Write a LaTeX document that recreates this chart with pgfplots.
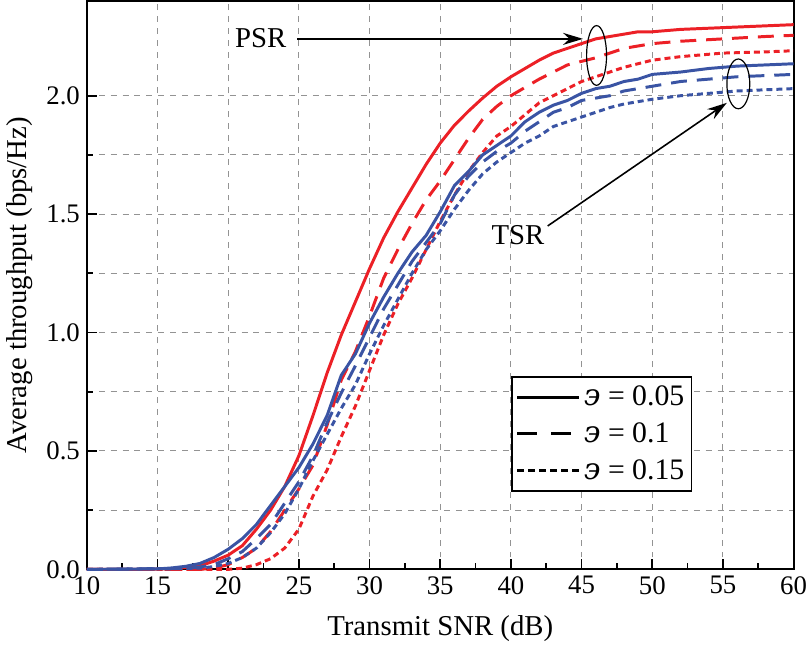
\documentclass[border=0pt]{standalone}
\usepackage{fontspec}
\setmainfont{Liberation Serif}
\newfontfamily\greekit{DejaVu Serif}
\usepackage{pgfplots}
\pgfplotsset{compat=1.18}
\usetikzlibrary{arrows.meta}

\definecolor{cred}{RGB}{236,32,38}
\definecolor{cblue}{RGB}{58,84,164}

\newcommand{\eps}{{\greekit\itshape ϶}}

\begin{document}
\begin{tikzpicture}
\begin{axis}[
    width=355bp, height=285.5bp,
    scale only axis,
    xmin=10, xmax=60, ymin=0, ymax=2.4,
    xtick={10,15,...,60},
    ytick={0,0.5,...,2.0},
    minor tick num=1,
    tick pos=left,
    tick align=inside,
    major tick length=5bp,
    minor tick length=3bp,
    every tick/.style={black, line width=0.9pt},
    axis line style={line width=1pt},
    xmajorgrids, ymajorgrids, yminorgrids,
    grid style={gray!85, dashed, line width=0.5pt},
    /pgf/number format/assume math mode=true,
    yticklabel style={/pgf/number format/.cd, fixed, fixed zerofill, precision=1},
    ticklabel style={font=\fontsize{13.5}{15}\selectfont},
    xticklabel style={inner xsep=0pt},
    label style={font=\fontsize{14.5}{16}\selectfont},
    xlabel={Transmit SNR (dB)},
    ylabel={Average throughput (bps/Hz)},
    xlabel style={yshift=-4bp},
    legend style={at={(0.856,0.137)}, anchor=south east, draw=black, line width=0.6pt,
        font=\fontsize{15}{17}\selectfont, row sep=3pt, inner xsep=2pt, inner ysep=2.5pt,
        nodes={inner xsep=1.5pt}, cells={anchor=west}},
    legend image code/.code={\draw[#1] (0cm,0cm) -- (1.1cm,0cm);},
    clip=false,
]
% PSR, red
\addplot[cred, line width=1.5pt, forget plot] coordinates {
(10,0)(14,0)(16,0.003)(17,0.008)(18,0.015)(19,0.035)(20,0.06)(21,0.10)(22,0.17)(23,0.25)(24,0.35)(25,0.48)(26,0.65)(27,0.83)(28,0.99)(29,1.13)(30,1.27)(31,1.40)(32,1.51)(33,1.61)(34,1.71)(35,1.80)(36,1.875)(37,1.935)(38,1.99)(39,2.04)(40,2.08)(41,2.115)(42,2.15)(43,2.18)(44,2.20)(45,2.22)(46,2.24)(47,2.25)(48,2.26)(49,2.27)(50,2.27)(52,2.28)(54,2.285)(56,2.29)(58,2.295)(60,2.30)};
\addplot[cred, line width=1.5pt, dash pattern=on 8bp off 5bp, forget plot] coordinates {
(10,0)(18,0)(19,0.005)(20,0.02)(21,0.05)(22,0.09)(23,0.16)(24,0.25)(25,0.34)(26,0.44)(27,0.61)(28,0.80)(29,0.92)(30,1.07)(31,1.23)(32,1.35)(33,1.46)(34,1.56)(35,1.64)(36,1.73)(37,1.82)(38,1.90)(39,1.955)(40,2.00)(41,2.035)(42,2.07)(43,2.10)(44,2.13)(45,2.145)(46,2.16)(47,2.18)(48,2.20)(50,2.22)(52,2.23)(55,2.24)(58,2.25)(60,2.255)};
\addplot[cred, line width=1.5pt, dash pattern=on 3bp off 2bp, forget plot] coordinates {
(10,0)(20,0)(21,0.005)(22,0.02)(23,0.045)(24,0.09)(25,0.17)(26,0.31)(27,0.42)(28,0.56)(29,0.69)(30,0.84)(31,0.99)(32,1.12)(33,1.23)(34,1.35)(35,1.47)(36,1.58)(37,1.68)(38,1.76)(39,1.83)(40,1.87)(41,1.92)(42,1.97)(43,2.00)(44,2.03)(45,2.06)(46,2.08)(47,2.10)(48,2.12)(50,2.15)(52,2.165)(55,2.18)(58,2.185)(60,2.19)};
% TSR, blue
\addplot[cblue, line width=1.5pt, forget plot] coordinates {
(10,0)(15,0.002)(16,0.006)(17,0.013)(18,0.025)(19,0.05)(20,0.085)(21,0.13)(22,0.19)(23,0.27)(24,0.35)(25,0.43)(26,0.53)(27,0.65)(28,0.82)(29,0.91)(30,1.04)(31,1.15)(32,1.25)(33,1.34)(34,1.41)(35,1.51)(36,1.62)(37,1.68)(38,1.75)(39,1.79)(40,1.83)(41,1.89)(42,1.93)(43,1.96)(44,1.98)(45,2.01)(46,2.03)(47,2.04)(48,2.06)(49,2.07)(50,2.09)(52,2.10)(54,2.115)(56,2.125)(58,2.13)(60,2.135)};
\addplot[cblue, line width=1.5pt, dash pattern=on 8bp off 5bp, forget plot] coordinates {
(10,0)(17,0.003)(18,0.01)(19,0.02)(20,0.045)(21,0.075)(22,0.13)(23,0.19)(24,0.28)(25,0.37)(26,0.48)(27,0.62)(28,0.745)(29,0.86)(30,0.98)(31,1.10)(32,1.20)(33,1.30)(34,1.38)(35,1.46)(36,1.58)(37,1.66)(38,1.72)(39,1.765)(40,1.80)(41,1.85)(42,1.89)(43,1.93)(44,1.95)(45,1.98)(46,1.99)(47,2.00)(48,2.02)(50,2.04)(52,2.06)(54,2.07)(56,2.08)(58,2.085)(60,2.09)};
\addplot[cblue, line width=1.5pt, dash pattern=on 3bp off 2bp, forget plot] coordinates {
(10,0)(18,0.005)(19,0.012)(20,0.025)(21,0.05)(22,0.09)(23,0.155)(24,0.235)(25,0.34)(26,0.46)(27,0.57)(28,0.68)(29,0.78)(30,0.91)(31,1.03)(32,1.14)(33,1.25)(34,1.35)(35,1.43)(36,1.52)(37,1.60)(38,1.67)(39,1.72)(40,1.76)(41,1.80)(42,1.83)(43,1.87)(44,1.89)(45,1.91)(46,1.93)(47,1.95)(48,1.965)(50,1.985)(52,2.00)(54,2.01)(56,2.02)(58,2.025)(60,2.03)};

\addlegendimage{black, line width=1.5pt}
\addlegendentry{\eps{} = 0.05}
\addlegendimage{black, line width=1.5pt, dash pattern=on 10bp off 7bp}
\addlegendentry{\eps{} = 0.1}
\addlegendimage{black, line width=1.5pt, dash pattern=on 3.5bp off 2bp}
\addlegendentry{\eps{} = 0.15}

% annotations
\draw[line width=0.6pt] (axis cs:46.06,2.17) ellipse [x radius=5bp, y radius=15bp];
\draw[line width=0.6pt] (axis cs:56.09,2.05) ellipse [x radius=5.75bp, y radius=12.5bp];
\draw[line width=0.8pt, -{Stealth[length=10bp, width=6bp]}] (axis cs:24.9,2.24) -- (axis cs:45.1,2.24);
\node[font=\fontsize{14.5}{17}\selectfont] at (axis cs:22.3,2.245) {PSR};
\draw[line width=0.8pt, -{Stealth[length=10bp, width=6bp]}] (axis cs:42.6,1.45) -- (axis cs:55.28,1.97);
\node[font=\fontsize{14.5}{17}\selectfont] at (axis cs:40.5,1.41) {TSR};
\end{axis}
\end{tikzpicture}
\end{document}
